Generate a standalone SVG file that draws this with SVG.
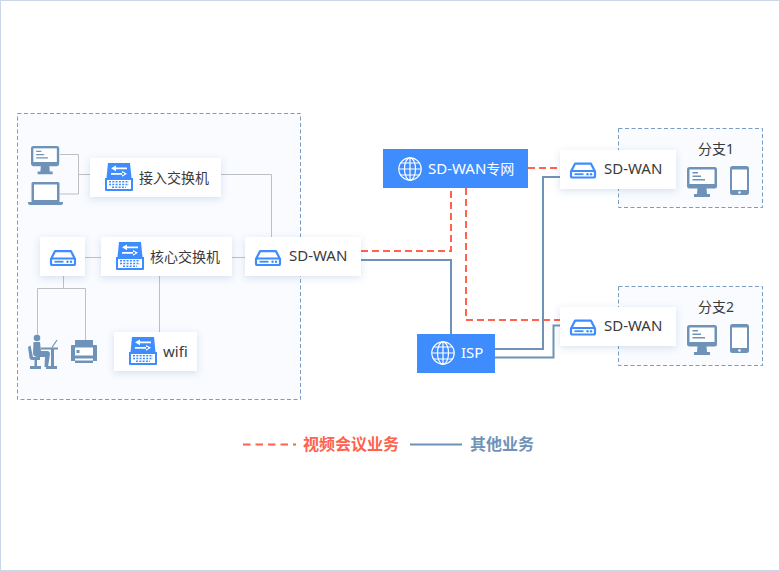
<svg xmlns="http://www.w3.org/2000/svg" width="780" height="571" viewBox="0 0 780 571">
<style>
text{font-family:"Noto Sans","Noto Sans CJK SC",sans-serif;font-size:14px;fill:#3a3a3a}
.l{font-size:15px}
.w{fill:#fff}
.zone{fill:#f9fbff;stroke:#7a9cc0;stroke-width:1;stroke-dasharray:4 2.5}
.card{fill:#fff;filter:url(#sh)}
.blue{fill:#3f8cff}
.g{fill:none;stroke:#bcbfc4;stroke-width:1}
.r{fill:none;stroke:#ff624d;stroke-width:2;stroke-dasharray:7 4}
.b{fill:none;stroke:#6f93b8;stroke-width:2}
.ic{fill:#6f93b8}
</style>
<defs>
<filter id="sh" x="-20%" y="-30%" width="140%" height="170%"><feDropShadow dx="0" dy="2" stdDeviation="3.5" flood-color="#3f6fb0" flood-opacity=".2"/></filter>
<symbol id="router" viewBox="0 0 26 16" width="26" height="16" overflow="visible">
<path d="M1 9 L5 1.200 H21 L25 9 V13.500 Q25 15 23.500 15 H2.500 Q1 15 1 13.500Z M1 8.500 H25" fill="none" stroke="#3f8cff" stroke-width="2.200" stroke-linejoin="round"/>
<rect x="4.500" y="10.800" width="9" height="1.800" fill="#3f8cff"/><circle cx="17.500" cy="11.700" r="1.200" fill="#3f8cff"/><circle cx="21" cy="11.700" r="1.200" fill="#3f8cff"/>
</symbol>
<symbol id="sw" viewBox="0 0 28 28" width="28" height="28" overflow="visible">
<path d="M3 0 H25 L26.500 15 H1.500Z" fill="#3f8cff"/>
<path d="M0 15 H28 V27 Q28 28 27 28 H1 Q0 28 0 27Z" fill="#3f8cff"/>
<rect x="2" y="17" width="24" height="9" fill="#fff"/>
<path d="M9 4.500 H22 V6.200 H9Z M6 5.350 L11 2.500 V8.200Z M6 10 H19 V11.700 H6Z M22 10.850 L17 8 V13.700Z" fill="#fff"/>
<path d="M4 18.800 H24 M4 21.500 H24 M7 24.200 H21" stroke="#3f8cff" stroke-width="1.500" stroke-dasharray="2 1.300" fill="none"/>
</symbol>
<symbol id="globe" viewBox="0 0 24 24" width="24" height="24" overflow="visible">
<g fill="none" stroke="#fff" stroke-width="1.200"><circle cx="12" cy="12" r="11.200"/><ellipse cx="12" cy="12" rx="5.500" ry="11.200"/><path d="M12 .8 V23.200 M.8 12 H23.200 M2.500 6 H21.500 M2.500 18 H21.500"/></g>
</symbol>
<symbol id="pc" viewBox="0 0 30 30" width="30" height="30" overflow="visible">
<rect x="0" y="0" width="30" height="21.500" rx="2.500" class="ic"/><rect x="2.500" y="2.500" width="25" height="14.500" fill="#fff"/>
<path d="M5.500 5 H11 V6.400 H5.500Z M5.500 8.500 H14 V9.900 H5.500Z M5.500 12 H18 V13.400 H5.500Z" class="ic"/>
<path d="M10.500 21 H19.500 L20 27 H23 V30 H7 V27 H10Z" class="ic"/>
</symbol>
<symbol id="pad" viewBox="0 0 19 29" width="19" height="29" overflow="visible">
<rect width="19" height="29" rx="2.500" class="ic"/><rect x="2" y="3.500" width="15" height="20.500" fill="#fff"/><circle cx="9.500" cy="26.500" r="1.300" fill="#fff"/>
</symbol>
</defs>
<rect width="780" height="571" fill="#fff"/>
<rect x=".5" y=".5" width="779" height="570" fill="none" stroke="#c9d7e6"/>

<g id="zone-hq"><rect class="zone" x="17.500" y="113.500" width="283" height="286"/></g>
<g id="zone-branch1"><rect class="zone" x="618.500" y="128.500" width="144" height="79"/></g>
<g id="zone-branch2"><rect class="zone" x="618.500" y="286.500" width="144" height="79"/></g>

<g id="connectors">
<path class="g" d="M60 154.500 H78.500 V194 H60 M78.500 174.500 H90 M221 174.500 H271.500 V237 M85 257.500 H101 M232 257.500 H245 M63.500 276 V288.500 M37.500 336 V288.500 H85.500 V340 M159.500 276 V332"/>
<path class="b" d="M361 260 H451 V334 M495 349 H543 V177 H560 M495 357.500 H553.500 V325.500 H560"/>
<path class="r" d="M361 251 H451 V188"/>
<path class="r" d="M466 188 V320 H560"/>
<path class="r" d="M528 168 H560"/>
</g>

<g id="node-pc"><use href="#pc" transform="translate(31 146) scale(.94)"/></g>
<g id="node-laptop">
<path class="ic" d="M33 182 H58 Q59.500 182 59.500 183.500 V202 H31.500 V183.500 Q31.500 182 33 182Z"/><rect x="34" y="184.500" width="23" height="15.500" fill="#fff"/>
<path class="ic" d="M28 202 H63 V203 Q63 205 61 205 H30 Q28 205 28 203Z"/>
</g>
<g id="node-access"><rect class="card" x="90" y="158" width="131" height="39"/><use href="#sw" x="105" y="163"/><text x="139" y="183">接入交换机</text></g>
<g id="node-router-lan"><rect class="card" x="40" y="237" width="45" height="39"/><use href="#router" x="50" y="250"/></g>
<g id="node-core"><rect class="card" x="101" y="237" width="131" height="39"/><use href="#sw" x="116" y="242"/><text x="150" y="262">核心交换机</text></g>
<g id="node-sdwan-hq"><rect class="card" x="245" y="237" width="116" height="39"/><use href="#router" x="255" y="250"/><text class="l" x="289" y="261">SD-WAN</text></g>
<g id="node-user">
<circle class="ic" cx="37" cy="338" r="3.300"/>
<path class="ic" d="M33.500 342 H40 L41 351 H47 Q50 351 50 354 L48 367 H44.500 L45 357 H38 Q33 357 33 353Z"/>
<path class="ic" d="M28 347 L30.500 345.500 L33 357 H40 V360 H32 Q30 360 29.500 358Z M34.500 360 H37 V366 H41 V369 H30 V366 H34.500Z"/>
<path class="ic" d="M41 347.500 H58 V349.500 H54 V366 H57 V369 H46 V366 H51 V349.500 H41Z"/>
<path d="M52 347.500 L57 340" stroke="#6f93b8" stroke-width="1.200" fill="none"/>
</g>
<g id="node-printer">
<path class="ic" d="M75 340 H93 V345 H96 Q97 345 97 346 V361 H93 V363 H75 V361 H71 V346 Q71 345 72 345 H75Z"/>
<rect x="75" y="347.500" width="18" height="8" fill="#fff"/><rect x="75" y="358.500" width="18" height="2" fill="#fff"/><rect x="76.500" y="350" width="3" height="3" class="ic"/>
</g>
<g id="node-wifi"><rect class="card" x="114" y="332" width="83" height="39"/><use href="#sw" x="129" y="337"/><text class="l" x="163" y="357">wifi</text></g>

<g id="node-sdwan-net"><rect class="blue" x="383" y="149" width="145" height="39"/><use href="#globe" x="398" y="157"/><text class="w" x="428" y="174"><tspan class="l">SD-WAN</tspan>专网</text></g>
<g id="node-isp"><rect class="blue" x="417" y="334" width="78" height="39"/><use href="#globe" x="431" y="341"/><text class="w l" x="461" y="358">ISP</text></g>

<g id="node-sdwan-b1"><rect class="card" x="560" y="150" width="116" height="39"/><use href="#router" x="570" y="162.500"/><text class="l" x="604" y="174">SD-WAN</text></g>
<g id="node-sdwan-b2"><rect class="card" x="560" y="307" width="116" height="39"/><use href="#router" x="570" y="319.500"/><text class="l" x="604" y="331">SD-WAN</text></g>
<g id="branch1-items"><text x="698" y="154">分支1</text><use href="#pc" x="687" y="167"/><use href="#pad" x="730" y="166"/></g>
<g id="branch2-items"><text x="698" y="312">分支2</text><use href="#pc" x="687" y="325"/><use href="#pad" x="730" y="324"/></g>

<g id="legend">
<path class="r" d="M243 444.500 H296" style="stroke-dasharray:7.500 5"/>
<text x="303" y="450" style="font-size:16px;font-weight:700;fill:#ff624d">视频会议业务</text>
<path class="b" d="M410 444.500 H462"/>
<text x="470" y="450" style="font-size:16px;font-weight:700;fill:#6f93b8">其他业务</text>
</g>
</svg>
